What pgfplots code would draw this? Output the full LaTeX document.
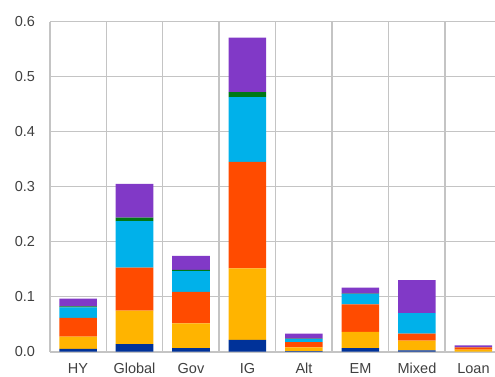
\documentclass[border=0pt]{standalone}
\usepackage{pgfplots}
\pgfplotsset{compat=1.18}
\usepackage{pgfplotstable}
\usepackage{fontspec}
\setmainfont{Liberation Sans}
\definecolor{cblue}{HTML}{003299}
\definecolor{cyellow}{HTML}{FFB400}
\definecolor{corange}{HTML}{FF4B00}
\definecolor{ccyan}{HTML}{00B1EA}
\definecolor{cgreen}{HTML}{007816}
\definecolor{cpurple}{HTML}{8139C7}
\definecolor{gridgrey}{HTML}{C4C4C4}
\definecolor{txt}{HTML}{404040}
\pgfplotstableread{
x a b c d e f
0 0.005 0.0226 0.034 0.019 0.002 0.014
1 0.014 0.0605 0.0785 0.0845 0.0065 0.061
2 0.0067 0.0449 0.0574 0.0376 0.0024 0.0254
3 0.0213 0.1302 0.1935 0.118 0.009 0.099
4 0.001 0.007 0.0096 0.0054 0.001 0.0087
5 0.0067 0.0293 0.05 0.019 0.0005 0.011
6 0.0025 0.0175 0.0127 0.0373 0 0.06
7 0 0.004 0.004 0.0005 0 0.003
}\data
\begin{document}
\begin{tikzpicture}
\begin{axis}[
  at={(49.75pt,24.3pt)}, anchor=south west,
  scale only axis, width=452pt, height=330pt,
  xmin=-0.5, xmax=7.5, ymin=0, ymax=0.6,
  ybar stacked, bar width=37.5pt,
  axis x line*=bottom, axis y line*=left,
  x axis line style={draw=gridgrey, line width=2.2pt, -},
  y axis line style={draw=gridgrey, line width=1.8pt, -},
  xtick=data,
  xticklabels={HY,Global,Gov,IG,Alt,EM,Mixed,Loan},
  ytick={0,0.1,0.2,0.3,0.4,0.5,0.6},
  yticklabel style={/pgf/number format/fixed, /pgf/number format/fixed zerofill, /pgf/number format/precision=1, /pgf/number format/assume math mode=true, anchor=east, inner sep=0pt, xshift=-14.5pt},
  xticklabel style={anchor=north, inner sep=0pt, yshift=-11.5pt},
  tick label style={font=\fontsize{14.5}{16}\selectfont, text=txt},
  major tick length=0pt,
  ymajorgrids,
  grid style={draw=gridgrey, line width=1.5pt},
  extra x ticks={0.5,1.5,2.5,3.5,4.5,5.5,6.5},
  extra x tick labels={},
  extra x tick style={grid=major},
]
\addplot[fill=cblue, draw=none] table[x=x,y=a]{\data};
\addplot[fill=cyellow, draw=none] table[x=x,y=b]{\data};
\addplot[fill=corange, draw=none] table[x=x,y=c]{\data};
\addplot[fill=ccyan, draw=none] table[x=x,y=d]{\data};
\addplot[fill=cgreen, draw=none] table[x=x,y=e]{\data};
\addplot[fill=cpurple, draw=none] table[x=x,y=f]{\data};
\end{axis}
\pgfresetboundingbox
\useasboundingbox (0,0) rectangle (495pt,376pt);
\end{tikzpicture}
\end{document}
